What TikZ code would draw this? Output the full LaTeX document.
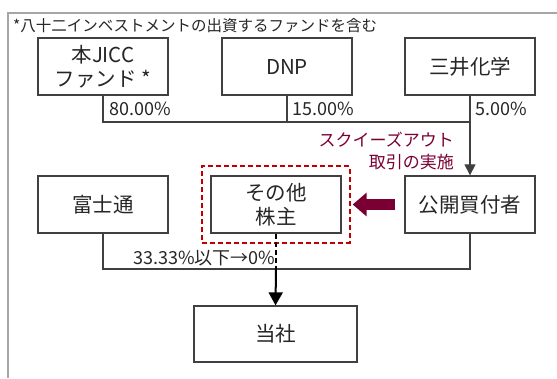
\documentclass[tikz,border=0pt]{standalone}
\usepackage{fontspec}
\setmainfont{Noto Sans CJK JP}
\usetikzlibrary{arrows.meta,positioning,fit,calc}
\definecolor{boxgray}{HTML}{404040}
\definecolor{framegray}{HTML}{A6A6A6}
\definecolor{sqmaroon}{HTML}{7A0034}
\definecolor{dashred}{HTML}{C00000}
\tikzset{
  entity/.style={draw=boxgray,line width=1.3pt,fill=white,minimum width=130pt,
    minimum height=57pt,align=center,font=\fontsize{20.5}{24}\selectfont,text=black!85},
  pctlabel/.style={anchor=west,inner sep=0pt,font=\fontsize{18}{20}\selectfont,text=black!85},
  conn/.style={draw=boxgray,line width=1.1pt},
  dashline/.style={line width=2pt,dash pattern=on 5pt off 3pt}
}

\begin{document}
\begin{tikzpicture}[x=1pt,y=-1pt]
  \useasboundingbox (0,0) rectangle (557,378);
  % frame
  \draw[framegray,line width=2.5pt] (8,378) -- (8,13) -- (557,13);
  \node[anchor=west,inner sep=0pt,font=\fontsize{15.5}{18}\selectfont,text=black!85] (title) at (13,25.5)
    {*八十二インベストメントの出資するファンドを含む};

  % shareholders
  \node[entity] (jicc) at (103,66.5) {本JICC\\ファンド *};
  \node[entity] (dnp) at (287,66.5) {DNP};
  \node[entity] (mitsui) at (470,66.5) {三井化学};
  \node[entity] (fuji) at (103,204.5) {富士通};
  \node[entity] (other) at (276,204.5) {その他\\株主};
  \node[entity] (tob) at (470,204.5) {公開買付者};
  \node[entity,minimum width=163pt,minimum height=56pt] (tousha) at (275.5,334) {当社};

  \coordinate (topbus) at (0,122);
  \coordinate (lowbus) at (0,269);
  \draw[conn] (jicc.south) |- (mitsui.south |- topbus);
  \draw[conn] (dnp.south) -- (dnp.south |- topbus);
  \draw[conn,-{Triangle[length=11pt,width=11pt]}] (mitsui.south) -- (tob.north);
  \draw[conn] (fuji.south) |- (tob.south |- lowbus) -- (tob.south);

  \node[pctlabel] (p1) at (109,109) {80.00\%};
  \node[pctlabel] (p2) at (292,109) {15.00\%};
  \node[pctlabel] (p3) at (475,109) {5.00\%};
  \node[pctlabel] (p4) at (133,258) {33.33\%以下→0\%};

  \node[anchor=east,align=right,inner sep=0pt,text=sqmaroon,font=\fontsize{17}{22}\selectfont]
    (squeeze) at (454,151) {スクイーズアウト\\取引の実施};

  % squeeze-out
  \node[draw=dashred,line width=2pt,dash pattern=on 5pt off 3pt,fit=(other),
    inner xsep=8pt,inner ysep=9pt] (redbox) {};
  \draw[sqmaroon,line width=11pt,-{Triangle[length=14pt,width=23pt]}]
    ([xshift=-9pt]tob.west) -- ([xshift=2pt]redbox.east);

  \draw[dashline] (other.south) -- (other.south |- lowbus);
  \draw[line width=2pt,-{Triangle[length=13pt,width=14pt]}] (other.south |- lowbus) -- (tousha.north);
\end{tikzpicture}
\end{document}
